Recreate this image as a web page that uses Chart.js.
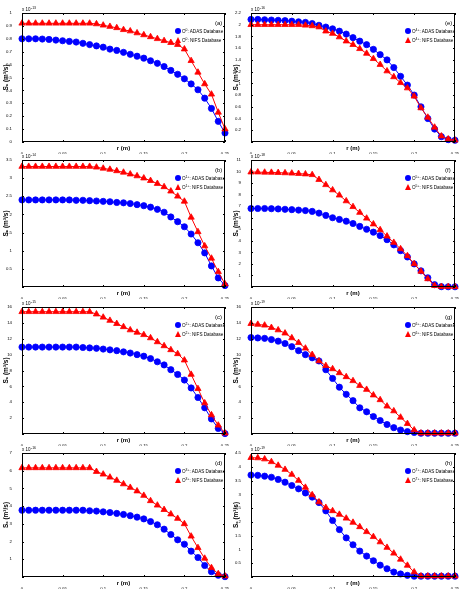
<!DOCTYPE html>
<html><head><meta charset="utf-8">
<script src="https://cdn.jsdelivr.net/npm/chart.js@4/dist/chart.umd.min.js"></script>
<style>
html,body{margin:0;padding:0;background:#fff;}
#wrap{position:relative;width:461px;height:598px;overflow:hidden;font-family:"Liberation Sans",Arial,sans-serif;}
#wrap canvas{position:absolute;}
.lg{position:absolute;font-size:4.6px;line-height:1;color:#000;white-space:nowrap;}
.lg .row{position:absolute;left:0;white-space:nowrap;}
.lg sup{font-size:3.4px;vertical-align:2px;}
.mk{display:inline-block;position:absolute;}
.circ{width:6px;height:6px;border-radius:50%;background:#0000ff;}
.tri{width:0;height:0;border-left:3.6px solid transparent;border-right:3.6px solid transparent;border-bottom:6px solid #ff0000;}
.lt{position:absolute;left:6px;top:0px;}
.let{position:absolute;font-size:6px;color:#000;}
</style></head><body><div id="wrap"></div>
<script>
// radial positions (m)
const r = [0,0.0083,0.0167,0.025,0.0333,0.0417,0.05,0.0583,0.0667,0.075,0.0833,0.0917,0.1,0.1083,0.1167,0.125,0.1333,0.1417,0.15,0.1583,0.1667,0.175,0.1833,0.1917,0.2,0.2083,0.2167,0.225,0.2333,0.2417,0.25];
const xTicks = [0,0.05,0.1,0.15,0.2,0.25];
const xTickLabels = ['0','0.05','0.1','0.15','0.2','0.25'];
const panelLetters = ['(a)','(b)','(c)','(d)','(e)','(f)','(g)','(h)'];
const ionCharge = ['0','1+','2+','3+','4+','5+','6+','7+'];
const exponents = ['-13','-14','-15','-16','-16','-18','-19','-19'];
const yMax = [1,3.5,16,7,2.2,11,16,4.5];
const yStep = [0.1,0.5,2,1,0.2,1,2,0.5];
const yShowZero = [true,false,false,false,false,false,false,false];

const adasA = [0.80,0.80,0.80,0.798,0.795,0.79,0.785,0.78,0.775,0.765,0.755,0.745,0.735,0.72,0.71,0.695,0.68,0.665,0.65,0.63,0.61,0.585,0.555,0.525,0.49,0.45,0.405,0.34,0.26,0.16,0.07];
const nifsA = [0.92,0.92,0.92,0.92,0.92,0.92,0.92,0.92,0.92,0.92,0.92,0.915,0.905,0.895,0.885,0.87,0.86,0.845,0.83,0.815,0.80,0.785,0.77,0.755,0.72,0.63,0.54,0.45,0.37,0.23,0.10];
const adasB = [2.40,2.40,2.40,2.40,2.40,2.40,2.40,2.40,2.39,2.39,2.38,2.37,2.36,2.35,2.33,2.32,2.30,2.27,2.24,2.20,2.14,2.06,1.93,1.80,1.66,1.46,1.22,0.94,0.58,0.25,0.04];
const nifsB = [3.32,3.32,3.32,3.32,3.32,3.32,3.32,3.32,3.32,3.32,3.32,3.30,3.27,3.24,3.20,3.16,3.11,3.06,3.00,2.93,2.85,2.76,2.64,2.50,2.36,1.92,1.52,1.13,0.79,0.42,0.08];
const adasC = [10.95,10.95,10.95,10.95,10.95,10.95,10.95,10.95,10.95,10.9,10.85,10.8,10.7,10.6,10.5,10.35,10.2,10.0,9.8,9.5,9.1,8.7,8.1,7.5,6.8,5.8,4.6,3.3,1.9,0.7,0.05];
const nifsC = [15.4,15.4,15.4,15.4,15.4,15.4,15.4,15.4,15.4,15.4,15.4,15.1,14.7,14.3,13.9,13.5,13.1,12.8,12.5,12.1,11.6,11.1,10.6,10.1,9.3,7.5,5.7,3.9,2.4,1.1,0.1];
const adasD = [3.77,3.77,3.77,3.77,3.77,3.77,3.77,3.77,3.77,3.77,3.74,3.72,3.68,3.64,3.59,3.53,3.46,3.38,3.28,3.13,2.95,2.7,2.4,2.1,1.85,1.46,1.1,0.65,0.3,0.1,0.02];
const nifsD = [6.16,6.16,6.16,6.16,6.16,6.16,6.16,6.16,6.16,6.16,6.16,5.95,5.8,5.63,5.45,5.25,5.05,4.85,4.6,4.3,4.05,3.8,3.55,3.3,3.0,2.3,1.65,1.05,0.52,0.18,0.05];
const adasE = [2.09,2.09,2.085,2.08,2.075,2.07,2.06,2.05,2.04,2.02,1.99,1.96,1.93,1.89,1.84,1.78,1.72,1.66,1.58,1.49,1.40,1.27,1.12,0.97,0.80,0.60,0.40,0.22,0.09,0.04,0.03];
const nifsE = [2.0,2.0,2.0,2.0,2.0,2.0,2.0,2.0,1.99,1.98,1.96,1.89,1.85,1.79,1.72,1.66,1.59,1.51,1.42,1.32,1.21,1.11,1.01,0.92,0.78,0.58,0.42,0.25,0.10,0.05,0.03];
const adasF = [6.8,6.8,6.8,6.78,6.76,6.73,6.7,6.66,6.62,6.55,6.4,6.2,6.0,5.85,5.7,5.5,5.25,5.0,4.75,4.45,4.1,3.65,3.15,2.6,2.0,1.4,0.8,0.2,0.03,0.02,0.02];
const nifsF = [9.95,9.95,9.93,9.92,9.9,9.88,9.85,9.82,9.78,9.72,9.3,8.85,8.4,7.95,7.45,6.95,6.45,5.95,5.45,4.95,4.4,3.85,3.3,2.7,2.0,1.35,0.7,0.12,0.03,0.02,0.02];
const adasG = [12.15,12.1,12.05,11.9,11.7,11.4,11.0,10.5,10.0,9.6,9.2,8.1,7.0,5.9,5.0,4.2,3.3,2.8,2.2,1.7,1.2,0.8,0.5,0.3,0.2,0.1,0.1,0.1,0.1,0.1,0.1];
const nifsG = [13.9,13.8,13.7,13.4,13.1,12.7,12.1,11.5,10.8,10.0,9.2,8.6,8.2,7.7,7.2,6.7,6.1,5.6,4.9,4.3,3.5,2.9,2.1,1.3,0.5,0.1,0.1,0.1,0.1,0.1,0.1];
const adasH = [3.7,3.69,3.66,3.62,3.54,3.44,3.32,3.2,3.05,2.9,2.7,2.4,2.05,1.72,1.42,1.17,0.94,0.76,0.59,0.43,0.3,0.18,0.11,0.06,0.03,0.03,0.03,0.03,0.03,0.03,0.03];
const nifsH = [4.33,4.32,4.28,4.18,4.05,3.9,3.72,3.5,3.25,2.98,2.72,2.52,2.4,2.27,2.13,1.98,1.82,1.64,1.46,1.27,1.07,0.86,0.64,0.42,0.18,0.03,0.03,0.03,0.03,0.03,0.03];

const adasAll = [adasA,adasB,adasC,adasD,adasE,adasF,adasG,adasH];
const nifsAll = [nifsA,nifsB,nifsC,nifsD,nifsE,nifsF,nifsG,nifsH];

// layout (pixels)
const colLeft = [22,251], colRight = [225,455], canvasLeft=[0,230], canvasWidth=[230,231];
const rowTop = [13,160,307,453], rowBottom = [142,287,434,577];
const BLUE='#0000ff', RED='#ff0000';
const FONT='"Liberation Sans", Arial, sans-serif';

const framePlugin = {
  id:'frame',
  afterDatasetsDraw(chart, args, opts){
    const {ctx, chartArea:a, scales:{x,y}} = chart;
    ctx.save();
    ctx.strokeStyle='#000'; ctx.lineWidth=1;
    ctx.strokeRect(Math.round(a.left)+0.5, Math.round(a.top)+0.5, Math.round(a.width)-1, Math.round(a.height)-1);
    ctx.beginPath();
    x.ticks.forEach(t=>{const px=Math.round(x.getPixelForValue(t.value))+0.5; ctx.moveTo(px,a.bottom); ctx.lineTo(px,a.bottom-2); ctx.moveTo(px,a.top); ctx.lineTo(px,a.top+2);});
    y.ticks.forEach(t=>{const py=Math.round(y.getPixelForValue(t.value))+0.5; ctx.moveTo(a.left,py); ctx.lineTo(a.left+2,py); ctx.moveTo(a.right,py); ctx.lineTo(a.right-2,py);});
    ctx.stroke();
    ctx.fillStyle='#000';
    ctx.font='4.5px '+FONT; ctx.textBaseline='alphabetic'; ctx.textAlign='left';
    ctx.fillText('x 10', a.left, a.top-2);
    const w = ctx.measureText('x 10').width;
    ctx.font='3.4px '+FONT;
    ctx.fillText(opts.exp, a.left+w+0.5, a.top-4.5);
    ctx.restore();
  }
};

const wrap = document.getElementById('wrap');
for(let i=0;i<8;i++){
  const col = i<4?0:1, row=i%4;
  const pl=colLeft[col], pr=colRight[col], pt=rowTop[row], pb=rowBottom[row];
  const cl=canvasLeft[col], cw=canvasWidth[col];
  const ct=pt-12, ch=(pb-pt)+24;
  const cv=document.createElement('canvas');
  cv.width=cw; cv.height=ch; cv.style.left=cl+'px'; cv.style.top=ct+'px'; cv.style.width=cw+'px'; cv.style.height=ch+'px';
  wrap.appendChild(cv);
  const yAxisW = pl-cl, rightPad = cl+cw-pr;
  const showZero = yShowZero[i];
  new Chart(cv.getContext('2d'),{
    type:'line',
    data:{datasets:[
      {label:'NIFS', data:r.map((xv,j)=>({x:xv,y:nifsAll[i][j]})), borderColor:RED, backgroundColor:RED, pointStyle:'triangle', pointRadius:3.6, pointBorderWidth:0.8, borderWidth:1, clip:false, tension:0},
      {label:'ADAS', data:r.map((xv,j)=>({x:xv,y:adasAll[i][j]})), borderColor:BLUE, backgroundColor:BLUE, pointStyle:'circle', pointRadius:3.1, pointBorderWidth:0.8, borderWidth:1, clip:false, tension:0}
    ]},
    options:{
      responsive:false, animation:false, devicePixelRatio:1,
      layout:{padding:{left:0,right:rightPad,top:12,bottom:0}},
      plugins:{legend:{display:false}, tooltip:{enabled:false}, frame:{exp:exponents[i]}},
      scales:{
        x:{type:'linear', min:0, max:0.25,
          afterBuildTicks(s){ s.ticks = xTicks.map(v=>({value:v})); },
          ticks:{font:{size:4.3,family:FONT}, color:'#000', padding:1, maxRotation:0, autoSkip:false, callback:(v,idx)=>xTickLabels[idx]},
          grid:{display:false}, border:{display:false},
          title:{display:true, text:'r (m)', color:'#000', font:{size:6,weight:'bold',family:FONT}, padding:{top:0,bottom:2.5}},
          afterFit(s){ s.height=12; s.paddingLeft=0; s.paddingRight=0; }
        },
        y:{min:0, max:yMax[i],
          ticks:{stepSize:yStep[i], font:{size:4.3,family:FONT}, color:'#000', padding:2, autoSkip:false,
            callback:(v)=> (Math.abs(v)<1e-9 && !showZero) ? '' : String(+(+v).toFixed(2))},
          grid:{display:false}, border:{display:false},
          title:{display:true, text:'Sₓ (m³/s)', color:'#000', font:{size:6.5,weight:'bold',family:FONT}, padding:{top:2.5,bottom:0}},
          afterFit(s){ s.width=yAxisW; s.paddingTop=0; s.paddingBottom=0; }
        }
      }
    },
    plugins:[framePlugin]
  });
  // panel letter
  const lt=document.createElement('div'); lt.className='let';
  lt.textContent=panelLetters[i];
  lt.style.left=(pr-10)+'px'; lt.style.top=(pt+7)+'px';
  wrap.appendChild(lt);
  // legend
  const lg=document.createElement('div'); lg.className='lg';
  lg.style.left=(pr-50)+'px'; lg.style.top=(pt+15)+'px';
  lg.innerHTML =
    '<div class="row" style="top:0"><span class="mk circ" style="left:0;top:0"></span><span class="lt" style="left:7px;top:0.8px">O<sup>'+ionCharge[i]+'</sup>: ADAS Database</span></div>'+
    '<div class="row" style="top:9px"><span class="mk tri" style="left:-0.5px;top:0"></span><span class="lt" style="left:7px;top:0.8px">O<sup>'+ionCharge[i]+'</sup>: NIFS Database</span></div>';
  wrap.appendChild(lg);
}
</script>
</body></html>
